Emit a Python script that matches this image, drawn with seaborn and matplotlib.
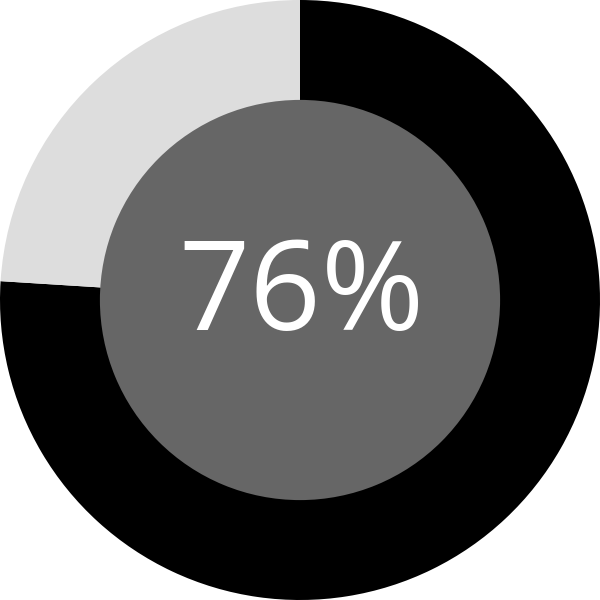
import matplotlib
matplotlib.use("Agg")
import matplotlib.pyplot as plt
import seaborn as sns

# progress donut: share done vs remaining
percent = 76
shares = [percent, 100 - percent]
colors = ["#000000", "#dddddd"]
label = f"{percent}%"

sns.set_style("white")
plt.rcParams["font.family"] = ["Open Sans", "DejaVu Sans"]

fig = plt.figure(figsize=(6, 6), dpi=100)
ax = fig.add_axes([0, 0, 1, 1])

# outer ring, clockwise from 12 o'clock
ax.pie(shares, colors=colors, startangle=90, counterclock=False,
       radius=1.0, wedgeprops=dict(linewidth=0))
# inner disc
ax.pie([1], colors=["#666666"], radius=0.667,
       wedgeprops=dict(linewidth=0))

ax.text(0.005, -0.1, label, ha="center", va="baseline",
        color="white", fontsize=90)

ax.set_xlim(-1, 1)
ax.set_ylim(-1, 1)
ax.set_aspect("equal")
ax.axis("off")

plt.savefig("out.png", dpi=100, facecolor="white")
